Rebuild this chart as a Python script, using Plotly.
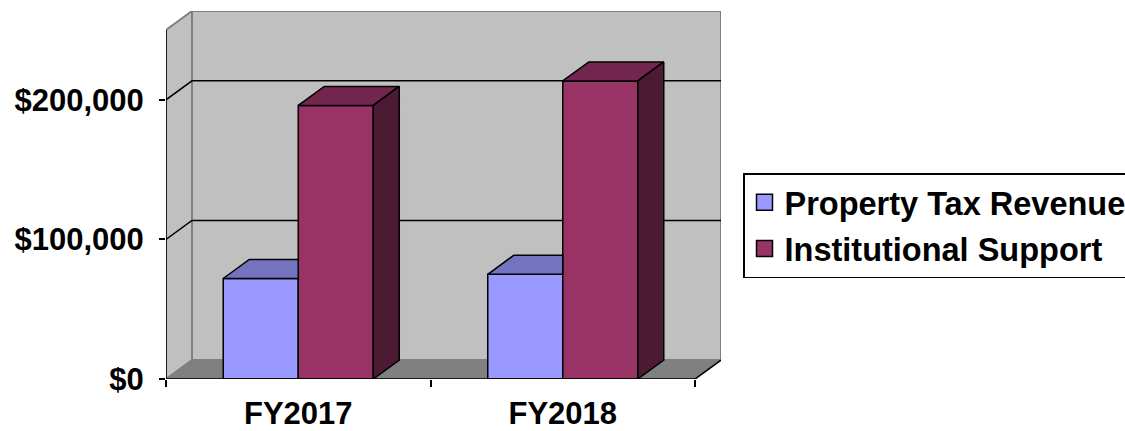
import plotly.graph_objects as go

# ---------------- data ----------------
categories = ["FY2017", "FY2018"]
series_names = ["Property Tax Revenue", "Institutional Support"]
property_tax_revenue = [72000, 75000]
institutional_support = [196000, 213500]
y_tick_values = [0, 100000, 200000]
y_tick_labels = ["$0", "$100,000", "$200,000"]

# ---------------- styling ----------------
front_colors = ["#9999FF", "#993366"]
top_colors = ["#7373BF", "#73264D"]
side_colors = ["#4D4D80", "#4D1A33"]
WALL = "#C0C0C0"
FLOOR = "#808080"
EDGE = "#808080"
FONT = "Liberation Sans, Arial, sans-serif"

W, H = 1125, 431
ML, MR, MT, MB = 166, 404, 11, 52
plot_w = W - ML - MR
plot_h = H - MT - MB
DEPTH_X_PX, DEPTH_Y_PX = 26, 19
AXIS_MAX = 250000
n = len(categories)
dx = DEPTH_X_PX * n / (plot_w - DEPTH_X_PX)
dy = DEPTH_Y_PX * AXIS_MAX / (plot_h - DEPTH_Y_PX)
x_lo, x_hi = -0.5, n - 0.5
BAR_W = 0.2836
offsets = [-BAR_W, 0.0]
values = [property_tax_revenue, institutional_support]

fig = go.Figure()

# front faces: real bars
for s, vals in enumerate(values):
    fig.add_trace(go.Bar(
        x=list(range(n)), y=vals, width=BAR_W, offset=offsets[s],
        marker=dict(color=front_colors[s], line=dict(color="black", width=1.5)),
        name=series_names[s], showlegend=False, hoverinfo="skip"))

# 3D extrusions derived from the same values
def poly(xs, ys, color):
    fig.add_trace(go.Scatter(
        x=xs + [xs[0]], y=ys + [ys[0]], mode="lines", fill="toself",
        fillcolor=color, line=dict(color="black", width=1.5),
        showlegend=False, hoverinfo="skip"))

for i in range(n):
    for s, vals in enumerate(values):
        v = vals[i]
        x0 = i + offsets[s]
        x1 = x0 + BAR_W
        last = s == len(values) - 1
        if not last and values[s + 1][i] >= v:
            # right part of top face hidden behind next (taller) bar
            poly([x0, x1, x1, x0 + dx], [v, v, v + dy, v + dy], top_colors[s])
        else:
            poly([x0, x1, x1 + dx, x0 + dx], [v, v, v + dy, v + dy], top_colors[s])
        if last:
            poly([x1, x1, x1 + dx, x1 + dx], [0, v, v + dy, dy], side_colors[s])

# legend entries
for s in range(len(values)):
    fig.add_trace(go.Scatter(
        x=[None], y=[None], mode="markers", name=series_names[s],
        legendgroup=f"g{s}",
        marker=dict(symbol="square", size=16, color=front_colors[s],
                    line=dict(color="black", width=1.5))))

# walls, floor, gridlines
shapes = []
shapes.append(dict(type="path", xref="x", yref="y", layer="below",
                   path=f"M{x_lo},0 L{x_hi},0 L{x_hi+dx},{dy} L{x_lo+dx},{dy} Z",
                   fillcolor=FLOOR, line=dict(color="#666666", width=1.5)))
shapes.append(dict(type="path", xref="x", yref="y", layer="below",
                   path=f"M{x_lo},0 L{x_lo},{AXIS_MAX} L{x_lo+dx},{AXIS_MAX+dy} L{x_lo+dx},{dy} Z",
                   fillcolor=WALL, line=dict(color=EDGE, width=2)))
shapes.append(dict(type="rect", xref="x", yref="y", layer="below",
                   x0=x_lo + dx, x1=x_hi + dx, y0=dy, y1=AXIS_MAX + dy,
                   fillcolor=WALL, line=dict(color=EDGE, width=2)))
for v in y_tick_values[1:]:
    shapes.append(dict(type="path", xref="x", yref="y", layer="below",
                       path=f"M{x_lo},{v} L{x_lo+dx},{v+dy} L{x_hi+dx},{v+dy}",
                       line=dict(color="black", width=1.5)))
# axis lines
shapes.append(dict(type="line", xref="x", yref="y", layer="above",
                   x0=x_lo, x1=x_lo, y0=0, y1=AXIS_MAX, line=dict(color="black", width=1.5)))
shapes.append(dict(type="path", xref="x", yref="y", layer="above",
                   path=f"M{x_lo},0 L{x_hi},0 L{x_hi+dx},{dy}",
                   line=dict(color="black", width=1.5)))

fig.update_layout(
    width=W, height=H,
    margin=dict(l=ML, r=MR, t=MT, b=MB, pad=0, autoexpand=False),
    paper_bgcolor="white", plot_bgcolor="white",
    barmode="overlay",
    shapes=shapes,
    font=dict(family=FONT, size=31, color="black", weight="bold"),
    showlegend=True,
    legend=dict(
        x=(743 - ML) / plot_w, y=(379 - 173) / plot_h,
        xanchor="left", yanchor="top",
        traceorder="grouped", tracegroupgap=1,
        bgcolor="white", bordercolor="black", borderwidth=1.5,
        font=dict(family=FONT, size=32.5, color="black", weight="bold"),
        itemclick=False, itemdoubleclick=False),
    xaxis=dict(
        range=[x_lo, x_hi + dx], showgrid=False, zeroline=False, showline=False,
        automargin=False,
        tickmode="array", tickvals=list(range(n)), ticktext=categories, ticks="",
        ticklabelstandoff=13,
        tickfont=dict(family=FONT, size=31, color="black", weight="bold"),
        minor=dict(tickmode="array", tickvals=[x_lo + k for k in range(n + 1)],
                   ticks="outside", ticklen=7, tickwidth=1.5, tickcolor="black",
                   showgrid=False)),
    yaxis=dict(
        range=[0, AXIS_MAX + dy], showgrid=False, zeroline=False, showline=False,
        automargin=False,
        tickmode="array", tickvals=y_tick_values, ticktext=y_tick_labels,
        ticks="outside", ticklen=6, tickwidth=1.5, tickcolor="black",
        ticklabelstandoff=9,
        tickfont=dict(family=FONT, size=31, color="black", weight="bold")),
)

fig.write_html("out.html")
